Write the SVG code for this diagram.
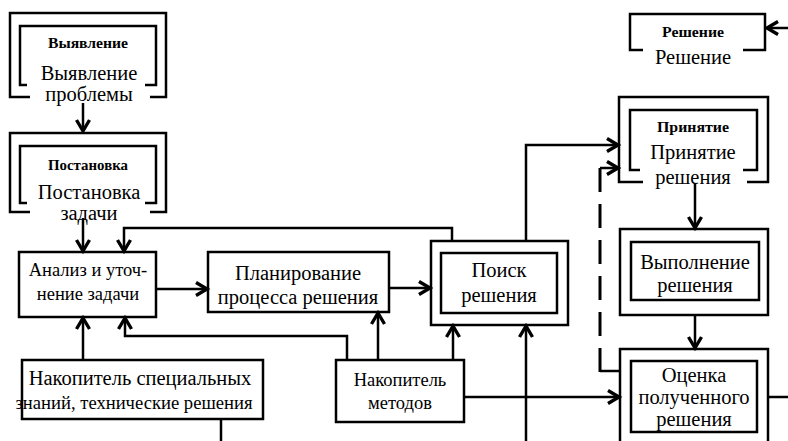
<svg xmlns="http://www.w3.org/2000/svg" width="788" height="441" viewBox="0 0 788 441" font-family="'Liberation Serif', 'DejaVu Serif', serif">
<style>
.bx{fill:none;stroke:#000;stroke-width:2.5}
.ln{fill:none;stroke:#000;stroke-width:2.5}
text{font-family:'Liberation Serif','DejaVu Serif',serif;fill:#000;text-anchor:middle}
.t{font-size:20.5px}
.s{font-size:18.5px}
.b{font-size:15px;font-weight:bold}
</style>
<defs>
<marker id="ar" markerUnits="userSpaceOnUse" markerWidth="18" markerHeight="18" refX="13" refY="8" orient="auto" overflow="visible">
<path d="M2,1.5 L13,8 L2,14.5" fill="none" stroke="#000" stroke-width="3.4"/>
</marker>
</defs>
<rect width="788" height="441" fill="#fff"/>
<g id="connectors">
<path class="ln" d="M83,103 V131" marker-end="url(#ar)"/>
<path class="ln" d="M83,218 V251" marker-end="url(#ar)"/>
<path class="ln" d="M452,241 V228 H124 V251" marker-end="url(#ar)"/>
<path class="ln" d="M156,289 H207" marker-end="url(#ar)"/>
<path class="ln" d="M389,288 H430" marker-end="url(#ar)"/>
<path class="ln" d="M526,241 V145 H618" marker-end="url(#ar)"/>
<path class="ln" d="M600,168 H618" marker-end="url(#ar)"/>
<path d="M600,168 V372" fill="none" stroke="#000" stroke-width="3" stroke-dasharray="24 12"/>
<path class="ln" d="M600,371 H620"/>
<path class="ln" d="M695,183 V228" marker-end="url(#ar)"/>
<path class="ln" d="M695,315 V348" marker-end="url(#ar)"/>
<path class="ln" d="M768,397 H788"/>
<path class="ln" d="M788,28 H767" marker-end="url(#ar)"/>
<path class="ln" d="M464,397 H619" marker-end="url(#ar)"/>
<path class="ln" d="M526,441 V326" marker-end="url(#ar)"/>
<path class="ln" d="M453,360 V326" marker-end="url(#ar)"/>
<path class="ln" d="M378,360 V313" marker-end="url(#ar)"/>
<path class="ln" d="M347,360 V336 H125 V318" marker-end="url(#ar)"/>
<path class="ln" d="M83,360 V318" marker-end="url(#ar)"/>
<path class="ln" d="M221,419 V441"/>
</g>
<g id="vyyavlenie">
<path class="bx" d="M30,97 H10 V13 H166 V97 H150"/>
<path class="bx" d="M27,85 H20 V26 H156 V85 H145"/>
<text class="b" x="88" y="48" textLength="80" lengthAdjust="spacingAndGlyphs">Выявление</text>
<text class="t" x="89" y="80">Выявление</text>
<text class="t" x="89" y="101">проблемы</text>
</g>
<g id="postanovka">
<path class="bx" d="M30,212 H10 V133 H166 V212 H150"/>
<path class="bx" d="M27,203 H20 V146 H156 V203 H145"/>
<text class="b" x="88" y="170" textLength="80" lengthAdjust="spacingAndGlyphs">Постановка</text>
<text class="t" x="89" y="199">Постановка</text>
<text class="t" x="89" y="220">задачи</text>
</g>
<g id="analiz">
<rect class="bx" x="19" y="252" width="137" height="65"/>
<text class="s" x="88" y="276">Анализ и уточ-</text>
<text class="s" x="88" y="300">нение задачи</text>
</g>
<g id="planirovanie">
<rect class="bx" x="208" y="252" width="181" height="60"/>
<text class="t" x="298" y="280">Планирование</text>
<text class="t" x="298" y="304">процесса решения</text>
</g>
<g id="poisk">
<rect class="bx" x="431" y="241" width="137" height="84"/>
<rect class="bx" x="441" y="253" width="116" height="60"/>
<text class="t" x="499" y="277">Поиск</text>
<text class="t" x="499" y="302">решения</text>
</g>
<g id="reshenie">
<path class="bx" d="M643,50 H630 V14 H765 V50 H743"/>
<text class="b" x="693" y="37" textLength="62" lengthAdjust="spacingAndGlyphs">Решение</text>
<text class="t" x="693" y="64">Решение</text>
</g>
<g id="prinyatie">
<path class="bx" d="M643,182 H619 V97 H768 V182 H747"/>
<path class="bx" d="M640,170 H630 V110 H757 V170 H743"/>
<text class="b" x="693" y="132" textLength="72" lengthAdjust="spacingAndGlyphs">Принятие</text>
<text class="t" x="693" y="159">Принятие</text>
<text class="t" x="693" y="184">решения</text>
</g>
<g id="vypolnenie">
<rect class="bx" x="620" y="229" width="148" height="86"/>
<rect class="bx" x="631" y="242" width="128" height="58"/>
<text class="t" x="695" y="269">Выполнение</text>
<text class="t" x="695" y="292">решения</text>
</g>
<g id="ocenka">
<rect class="bx" x="620" y="349" width="148" height="100"/>
<rect class="bx" x="631" y="361" width="126" height="71"/>
<text class="t" x="694" y="382">Оценка</text>
<text class="t" x="694" y="404">полученного</text>
<text class="t" x="694" y="426">решения</text>
</g>
<g id="nakopitel-znaniy">
<rect class="bx" x="22" y="360" width="241" height="59"/>
<text class="t" x="140" y="385">Накопитель специальных</text>
<text class="s" x="134" y="409" textLength="237" lengthAdjust="spacingAndGlyphs">знаний, технические решения</text>
</g>
<g id="nakopitel-metodov">
<rect class="bx" x="336" y="360" width="128" height="62"/>
<text class="s" x="400" y="386">Накопитель</text>
<text class="s" x="400" y="409">методов</text>
</g>
</svg>
